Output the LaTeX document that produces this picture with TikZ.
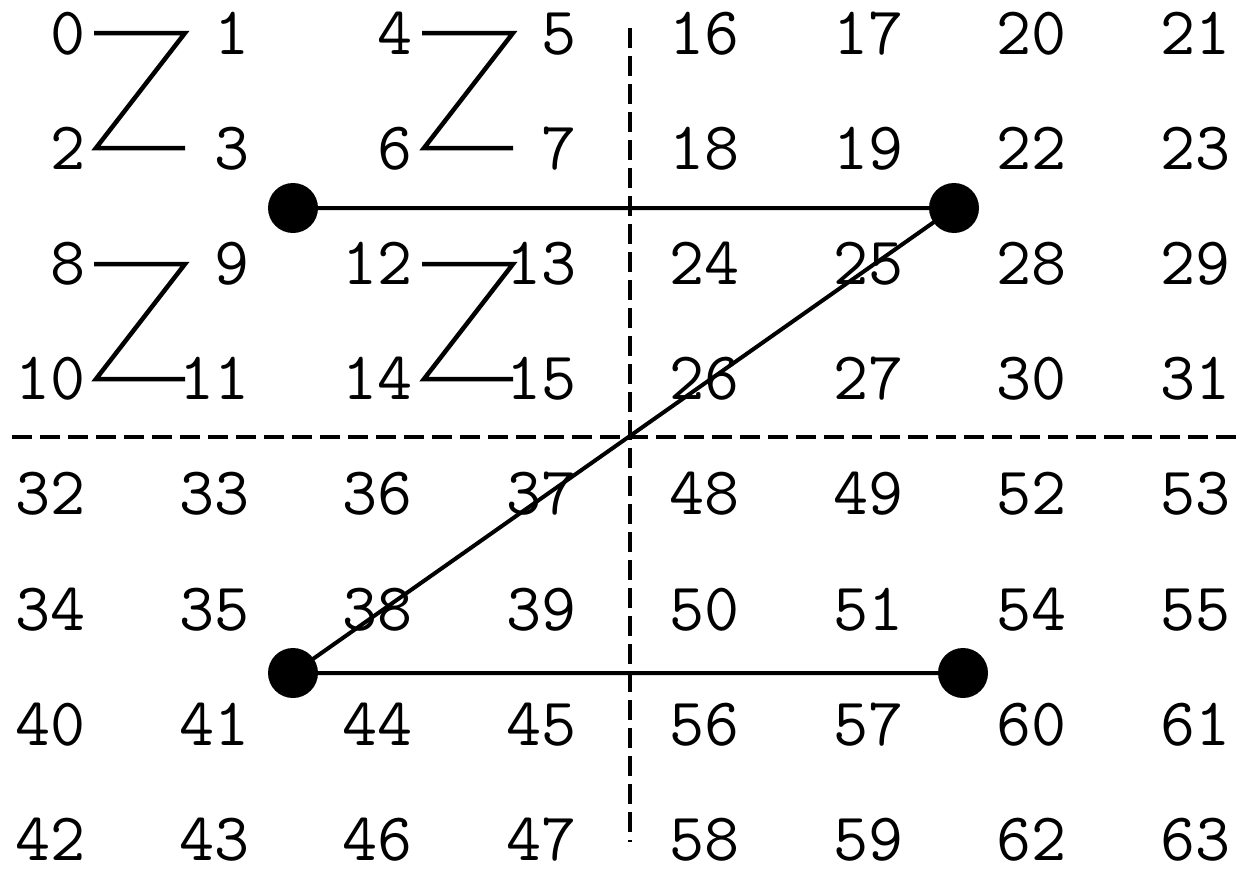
\documentclass[tikz,border=0pt]{standalone}
\begin{document}
\begin{tikzpicture}[x=1pt,y=-1pt,
  num/.style={anchor=base east,inner sep=0pt,font=\ttfamily\fontsize{68}{68}\selectfont},
  zline/.style={line width=4.5pt,line join=miter},
  bigz/.style={line width=4pt},
  divider/.style={line width=4.5pt,dash pattern=on 20pt off 8pt},
  dot/.style={circle,fill=black,minimum size=50pt,inner sep=0pt}]
\useasboundingbox (0,0) rectangle (1240,870);
\foreach \row [count=\r from 0] in {{0,1,4,5,16,17,20,21},{2,3,6,7,18,19,22,23},{8,9,12,13,24,25,28,29},{10,11,14,15,26,27,30,31},{32,33,36,37,48,49,52,53},{34,35,38,39,50,51,54,55},{40,41,44,45,56,57,60,61},{42,43,46,47,58,59,62,63}}{
  \foreach \v [count=\c from 0] in \row {
    \node[num] (n\v) at ({86+163.5*\c},{54+115.2*\r}) {\v};
  }
}
% dividers
\coordinate (vt) at (630,28);
\coordinate (vb) at (630,842);
\coordinate (hl) at (12,437);
\coordinate (hr) at (1236,437);
\draw[divider] (vt) -- (vb);
\draw[divider] (hl) -- (hr);
% small Z shapes
\foreach \dx/\dy/\k in {0/0/a,328/0/b,0/231/c,328/231/d}{
  \coordinate (z\k1) at ({94+\dx},{33+\dy});
  \coordinate (z\k2) at ({185+\dx},{33+\dy});
  \coordinate (z\k3) at ({96+\dx},{148+\dy});
  \coordinate (z\k4) at ({185+\dx},{148+\dy});
  \draw[zline] (z\k1) -- (z\k2) -- (z\k3) -- (z\k4);
}
% big Z
\node[dot] (p1) at (293,208) {};
\node[dot] (p2) at (954,208) {};
\node[dot] (p3) at (293,673) {};
\node[dot] (p4) at (963,673) {};
\draw[bigz] (p1.center) -- (p2.center) -- (p3.center) -- (p4.center);
\end{tikzpicture}
\end{document}
